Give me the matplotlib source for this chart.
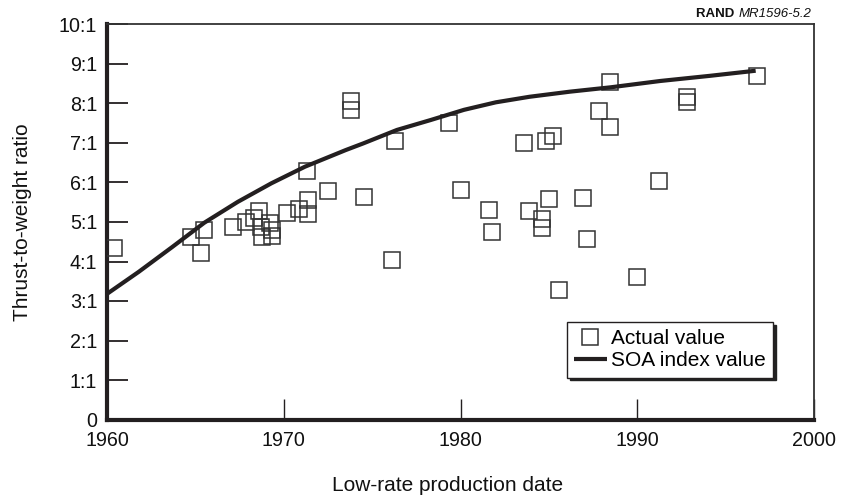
import matplotlib
matplotlib.use("Agg")
import matplotlib.pyplot as plt

plt.rcParams['font.family'] = ['Liberation Sans', 'DejaVu Sans']

# engine low-rate production year and thrust-to-weight ratio (x:1)
years = [1960.4, 1964.75, 1965.5, 1965.3, 1967.15, 1967.85, 1968.3, 1968.6,
         1968.7, 1968.75, 1969.25, 1969.35, 1969.35, 1970.2, 1970.85, 1971.35,
         1971.35, 1971.3, 1972.5, 1973.8, 1973.8, 1974.55, 1976.3, 1976.15,
         1979.35, 1980.0, 1981.6, 1981.8, 1983.6, 1983.9, 1984.6, 1984.6,
         1984.85, 1985.0, 1985.25, 1985.55, 1986.95, 1987.15, 1987.85, 1988.45,
         1988.45, 1990.0, 1991.25, 1992.8, 1992.8, 1996.75]
ratios = [4.35, 4.63, 4.80, 4.21, 4.88, 4.99, 5.09, 5.29,
          4.88, 4.63, 4.97, 4.80, 4.65, 5.22, 5.33, 5.56,
          5.19, 6.29, 5.78, 8.07, 7.83, 5.64, 7.05, 4.04,
          7.50, 5.81, 5.30, 4.74, 6.99, 5.28, 5.08, 4.86,
          7.05, 5.58, 7.18, 3.28, 5.62, 4.57, 7.81, 8.54,
          7.41, 3.62, 6.04, 8.17, 8.03, 8.70]

# state-of-the-art index curve
soa_years = [1960.0, 1961.8, 1963.7, 1965.5, 1967.4, 1969.3, 1971.2, 1973.5,
             1974.5, 1976.4, 1978.3, 1980.2, 1982.0, 1983.9, 1986.2, 1988.5,
             1991.3, 1994.1, 1996.7]
soa_values = [3.18, 3.74, 4.37, 4.98, 5.51, 5.98, 6.40, 6.82,
              6.99, 7.33, 7.58, 7.84, 8.03, 8.17, 8.30, 8.41,
              8.57, 8.70, 8.83]

xticks = [1960, 1970, 1980, 1990, 2000]
yticks = list(range(0, 11))
ytick_labels = ['0'] + [f'{v}:1' for v in range(1, 11)]

W, H = 842, 500
fig = plt.figure(figsize=(W / 100, H / 100), dpi=100)
ax = fig.add_axes([107 / W, 1 - 419.5 / H, 707 / W, 395 / H])

ink = '#231f20'
ax.plot(years, ratios, linestyle='none', marker='s', markersize=11.2,
        markerfacecolor='none', markeredgecolor='#333333', markeredgewidth=1.1,
        label='Actual value', zorder=3)
ax.plot(soa_years, soa_values, color=ink, linewidth=3.0,
        solid_capstyle='butt', solid_joinstyle='round',
        label='SOA index value', zorder=4)

ax.set_xlim(1960, 2000)
ax.set_ylim(0, 10)
ax.set_xticks(xticks)
ax.set_yticks(yticks)
ax.set_yticklabels(ytick_labels)
ax.tick_params(axis='both', direction='in', length=15, colors=ink,
               labelsize=14.2, labelcolor='#111111')
ax.tick_params(axis='y', width=1.3, pad=7)
ax.tick_params(axis='x', width=1.0, pad=8)

for side in ('left', 'bottom'):
    ax.spines[side].set_linewidth(3.0)
    ax.spines[side].set_color(ink)
for side in ('top', 'right'):
    ax.spines[side].set_linewidth(1.3)
    ax.spines[side].set_color('#333333')

ax.set_xlabel('Low-rate production date', fontsize=15, color='#111111')
ax.xaxis.set_label_coords(0.481, -0.142)
ax.set_ylabel('Thrust-to-weight ratio', fontsize=15, color='#111111')
ax.yaxis.set_label_coords(-0.106, 0.5)

leg = ax.legend(loc='upper left', bbox_to_anchor=(567 / W, 1 - 322 / H),
                bbox_transform=fig.transFigure, borderaxespad=0,
                fontsize=15, frameon=True, fancybox=False,
                shadow={'color': '#222222', 'alpha': 1.0},
                handlelength=1.55, handletextpad=0.2, labelspacing=0.15,
                borderpad=0.35, numpoints=1)
leg.get_frame().set_edgecolor(ink)
leg.get_frame().set_linewidth(1.0)
leg.get_frame().set_alpha(1.0)

code = fig.text(811 / W, 1 - 17 / H, 'MR1596-5.2', ha='right', va='baseline',
                fontsize=9.5, style='italic', color='#111111')
fig.text(0, 0, 'RAND ', fontsize=9.5, fontweight='bold', color='#111111',
         ha='right', va='baseline', transform=code.get_transform())
fig.canvas.draw()
bb = code.get_window_extent()
fig.texts[-1].set_position((bb.x0 / W, 1 - 17 / H))
fig.texts[-1].set_transform(fig.transFigure)

fig.savefig('out.png', dpi=100)
